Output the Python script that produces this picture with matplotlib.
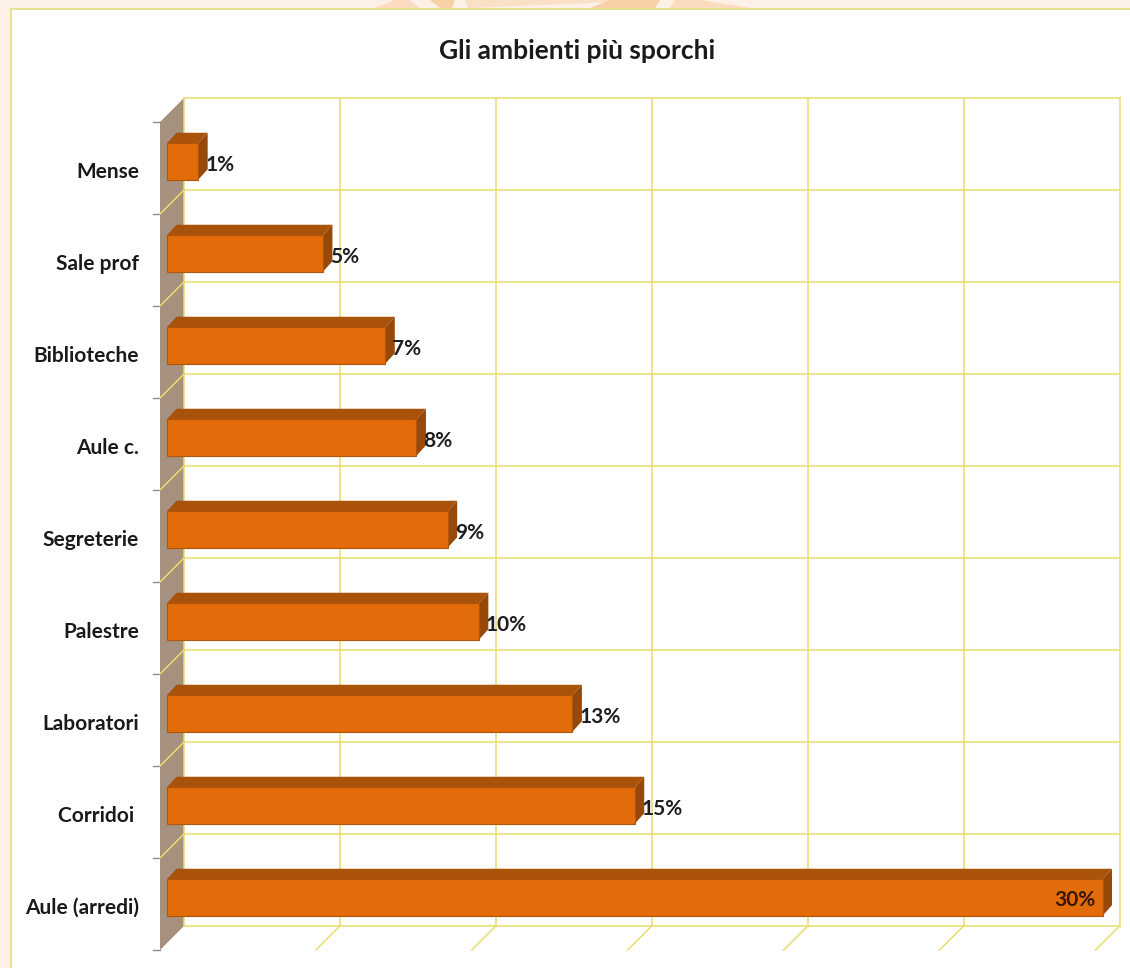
import matplotlib
matplotlib.use("Agg")
import matplotlib.pyplot as plt
from matplotlib.patches import Polygon, Rectangle
from matplotlib.transforms import ScaledTranslation

categories = ["Aule (arredi)", "Corridoi ", "Laboratori", "Palestre", "Segreterie",
              "Aule c.", "Biblioteche", "Sale prof", "Mense"]
values = [30, 15, 13, 10, 9, 8, 7, 5, 1]
value_labels = ["30%", "15%", "13%", "10%", "9%", "8%", "7%", "5%", "1%"]
title = "Gli ambienti più sporchi"
x_gridlines = [0, 5, 10, 15, 20, 25, 30]

W, H = 1130, 968
plt.rcParams["font.family"] = ["Lato", "DejaVu Sans"]
fig = plt.figure(figsize=(W / 100, H / 100), dpi=100, facecolor="#FDF0E6")

# page decoration and white panel
bg = fig.add_axes([0, 0, 1, 1])
bg.set_xlim(0, W); bg.set_ylim(H, 0); bg.axis("off")
bg.add_patch(Polygon([[375, 8], [395, 0], [410, 0], [420, 8]], fc="#FBDCC0", ec="none"))
bg.add_patch(Polygon([[430, 0], [455, 0], [452, 8], [440, 8]], fc="#F9D0A8", ec="none"))
bg.add_patch(Polygon([[465, 0], [640, 0], [590, 3], [468, 8]], fc="#FBE0C8", ec="none"))
bg.add_patch(Polygon([[590, 8], [610, 0], [660, 0], [655, 8]], fc="#F9D0A8", ec="none"))
bg.add_patch(Polygon([[670, 8], [675, 0], [700, 0], [750, 8]], fc="#FBDCC0", ec="none"))
bg.add_patch(Rectangle((10.5, 8.5), W, H, fc="white", ec="#E4E08A", lw=1.3))

# front plane of the chart: value 0..30 horizontally, one unit per category
L, R, T, B = 160, 1095.5, 122, 950
ax = fig.add_axes([L / W, 1 - B / H, (R - L) / W, (B - T) / H], facecolor="none")
ax.set_xlim(0, 30)
ax.set_ylim(-0.5, len(categories) - 0.5)
for s in ax.spines.values():
    s.set_visible(False)

ux = (R - L) / 30            # pixels per percent
uy = (B - T) / len(categories)  # pixels per category
depth_x = 24 / ux            # chart depth expressed in data units
depth_y = 24 / uy
ymin, ymax = ax.get_ylim()
n = len(categories)
GRID = "#E9DC6C"
WALL = "#A6917E"

# left wall
ax.add_patch(Polygon([[0, ymin], [depth_x, ymin + depth_y], [depth_x, ymax + depth_y], [0, ymax]],
                     fc=WALL, ec="none", clip_on=False, zorder=1))
# back wall gridlines and floor
for v in x_gridlines:
    ax.plot([v + depth_x] * 2, [ymin + depth_y, ymax + depth_y], color=GRID, lw=1.1, clip_on=False, zorder=1)
    if v > 0:
        ax.plot([v, v + depth_x], [ymin, ymin + depth_y], color=GRID, lw=1.1, clip_on=False, zorder=1)
for i in range(n + 1):
    y = ymin + i
    ax.plot([depth_x, 30 + depth_x], [y + depth_y] * 2, color=GRID, lw=1.1, clip_on=False, zorder=1)
    if 0 < i < n:
        ax.plot([0, depth_x], [y, y + depth_y], color=GRID, lw=1.1, clip_on=False, zorder=1.5)
    ax.plot([-7 / ux, 0], [y, y], color="#8C8C8C", lw=1, clip_on=False, zorder=1)

# bars: front face, top and side faces
bar_h = 36.5 / uy
off_x = 7 / ux
off_y = 6.5 / uy
dx = 9.5 / ux
dy = 10.5 / uy
FRONT, DARK, SIDE = "#E36C0A", "#A9520A", "#97490A"
for i, v in enumerate(values):
    yc = i + off_y
    y0, y1 = yc - bar_h / 2, yc + bar_h / 2
    ax.add_patch(Polygon([[off_x, y1], [off_x + dx, y1 + dy], [v + off_x + dx, y1 + dy], [v + off_x, y1]],
                         fc=DARK, ec="none", zorder=3, clip_on=False))
    ax.add_patch(Polygon([[v + off_x, y0], [v + off_x + dx, y0 + dy], [v + off_x + dx, y1 + dy], [v + off_x, y1]],
                         fc=SIDE, ec="none", zorder=3, clip_on=False))
    for b in ax.barh(yc, v, height=bar_h, left=off_x, color=FRONT, edgecolor="#B0560A", lw=0.8, zorder=4):
        b.set_clip_on(False)
    if v == max(values):
        ax.text(v + off_x - 7 / ux, yc - 2.5 / uy, value_labels[i], ha="right", va="center",
                fontsize=15, fontweight="bold", color="#3A1606", zorder=6)
    else:
        ax.text(v + off_x + 7 / ux, yc - 3.5 / uy, value_labels[i], ha="left", va="center",
                fontsize=15, fontweight="bold", color="#1E1E1E", zorder=6)

ax.set_yticks(range(n), categories)
ax.set_xticks([])
ax.tick_params(axis="y", length=0, pad=15, labelsize=15, labelcolor="#1A1A1A")
shift = ScaledTranslation(0, -2 / 100, fig.dpi_scale_trans)
for t in ax.get_yticklabels():
    t.set_fontweight("bold")
    t.set_transform(t.get_transform() + shift)

fig.text(577 / W, 1 - 51 / H, title, ha="center", va="center", fontsize=19, fontweight="bold", color="#1A1A1A")
fig.savefig("out.png", dpi=100)
